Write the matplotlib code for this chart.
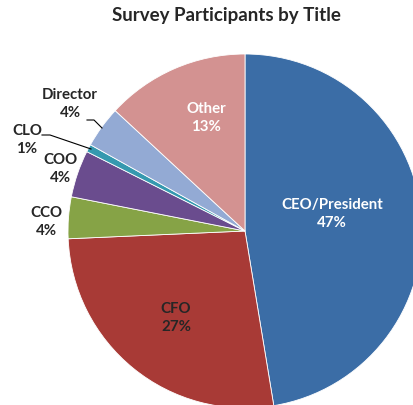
import numpy as np
import matplotlib
matplotlib.use("Agg")
import matplotlib.pyplot as plt

titles = ["CEO/President", "CFO", "CCO", "COO", "CLO", "Director", "Other"]
shares = [47.4, 26.9, 3.8, 4.3, 0.7, 3.8, 13.1]
colors = ["#3B6DA6", "#A83A36", "#86A346", "#6A4C8E", "#3599AF", "#93AAD4", "#D39291"]

plt.rcParams["font.family"] = ["Lato", "DejaVu Sans"]

W, H = 413, 406
fig = plt.figure(figsize=(W / 100, H / 100), dpi=100)
ax = fig.add_axes([0, 0, 1, 1])

cx, cy, r = 245, 232, 177  # pixel geometry of the pie


def px(x, y):
    return ((x - cx) / r, (cy - y) / r)


wedges, _ = ax.pie(shares, colors=colors, startangle=90, counterclock=False,
                   radius=1, wedgeprops=dict(edgecolor="white", linewidth=0.6))

ax.set_xlim(-cx / r, (W - cx) / r)
ax.set_ylim(-(H - cy) / r, cy / r)
ax.set_aspect("auto")
ax.axis("off")

fs = 10.8
inside = {"CEO/President": ((332, 214), "white"),
          "CFO": ((176, 318), "#262626"),
          "Other": ((206, 118), "white")}
outside = {"CCO": (46, 222), "COO": (60, 169), "CLO": (27, 140), "Director": (70, 104)}

for name, val in zip(titles, shares):
    txt = f"{name}\n{val:.0f}%"
    if name in inside:
        (x, y), c = inside[name]
    else:
        (x, y), c = outside[name], "#262626"
    ax.text(*px(x, y), txt, ha="center", va="center", color=c,
            fontsize=fs, fontweight="bold", linespacing=1.45)

# leader lines
ax.plot(*zip(px(87, 121), px(94, 121), px(102, 129)), color="black", lw=0.8)
ax.plot(*zip(px(42, 136), px(50, 136), px(91, 150)), color="black", lw=0.8)

fig.text(226 / W, 1 - 16 / H, "Survey Participants by Title", ha="center", va="center",
         fontsize=13.5, fontweight="bold", color="#262626")

fig.savefig("out.png", dpi=100)
